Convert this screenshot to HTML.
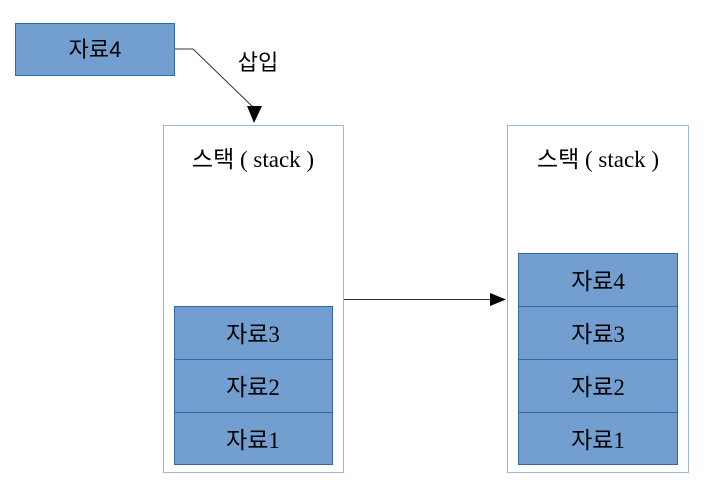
<!DOCTYPE html>
<html><head><meta charset="utf-8"><style>
html,body{margin:0;padding:0;background:#fff;}
svg{display:block;}
text{font-family:"Liberation Serif","Noto Sans CJK KR",serif;font-size:23px;fill:#000;}
.s{font-family:"Liberation Sans","Noto Sans CJK KR",sans-serif;}
</style></head><body>
<svg width="711" height="499" viewBox="0 0 711 499" xmlns="http://www.w3.org/2000/svg">
<!-- top box -->
<rect x="15.5" y="23.5" width="159" height="52" fill="#729fcf" stroke="#3465a4" stroke-width="1"/>
<text x="95" y="57" text-anchor="middle" class="s" style="font-size:22px">자료4</text>
<!-- insert arrow -->
<polyline points="175,49 193,49 254,108" fill="none" stroke="#333" stroke-width="1"/>
<polygon points="247,106 262,106 254,123" fill="#000"/>
<text x="258" y="70" text-anchor="middle" class="s" style="font-size:22px">삽입</text>
<!-- left container -->
<rect x="163.5" y="125.5" width="180" height="347" fill="#fff" stroke="#9cb7d8" stroke-width="1"/>
<text x="253" y="167" text-anchor="middle">스택 ( stack )</text>
<rect x="174.5" y="306.5" width="158" height="158" fill="#729fcf" stroke="#3465a4" stroke-width="1"/>
<line x1="174" y1="359.5" x2="333" y2="359.5" stroke="#3465a4"/>
<line x1="174" y1="412.5" x2="333" y2="412.5" stroke="#3465a4"/>
<text x="253" y="342" text-anchor="middle">자료3</text>
<text x="253" y="395" text-anchor="middle">자료2</text>
<text x="253" y="448" text-anchor="middle">자료1</text>
<!-- middle arrow -->
<line x1="344" y1="299.5" x2="492" y2="299.5" stroke="#333" stroke-width="1"/>
<polygon points="490,293 506,299.5 490,306" fill="#000"/>
<!-- right container -->
<rect x="507.5" y="125.5" width="181" height="347" fill="#fff" stroke="#9cb7d8" stroke-width="1"/>
<text x="598" y="167" text-anchor="middle">스택 ( stack )</text>
<rect x="518.5" y="253.5" width="159" height="211" fill="#729fcf" stroke="#3465a4" stroke-width="1"/>
<line x1="518" y1="306.5" x2="678" y2="306.5" stroke="#3465a4"/>
<line x1="518" y1="359.5" x2="678" y2="359.5" stroke="#3465a4"/>
<line x1="518" y1="412.5" x2="678" y2="412.5" stroke="#3465a4"/>
<text x="598" y="289" text-anchor="middle">자료4</text>
<text x="598" y="342" text-anchor="middle">자료3</text>
<text x="598" y="395" text-anchor="middle">자료2</text>
<text x="598" y="448" text-anchor="middle">자료1</text>
</svg>
</body></html>
